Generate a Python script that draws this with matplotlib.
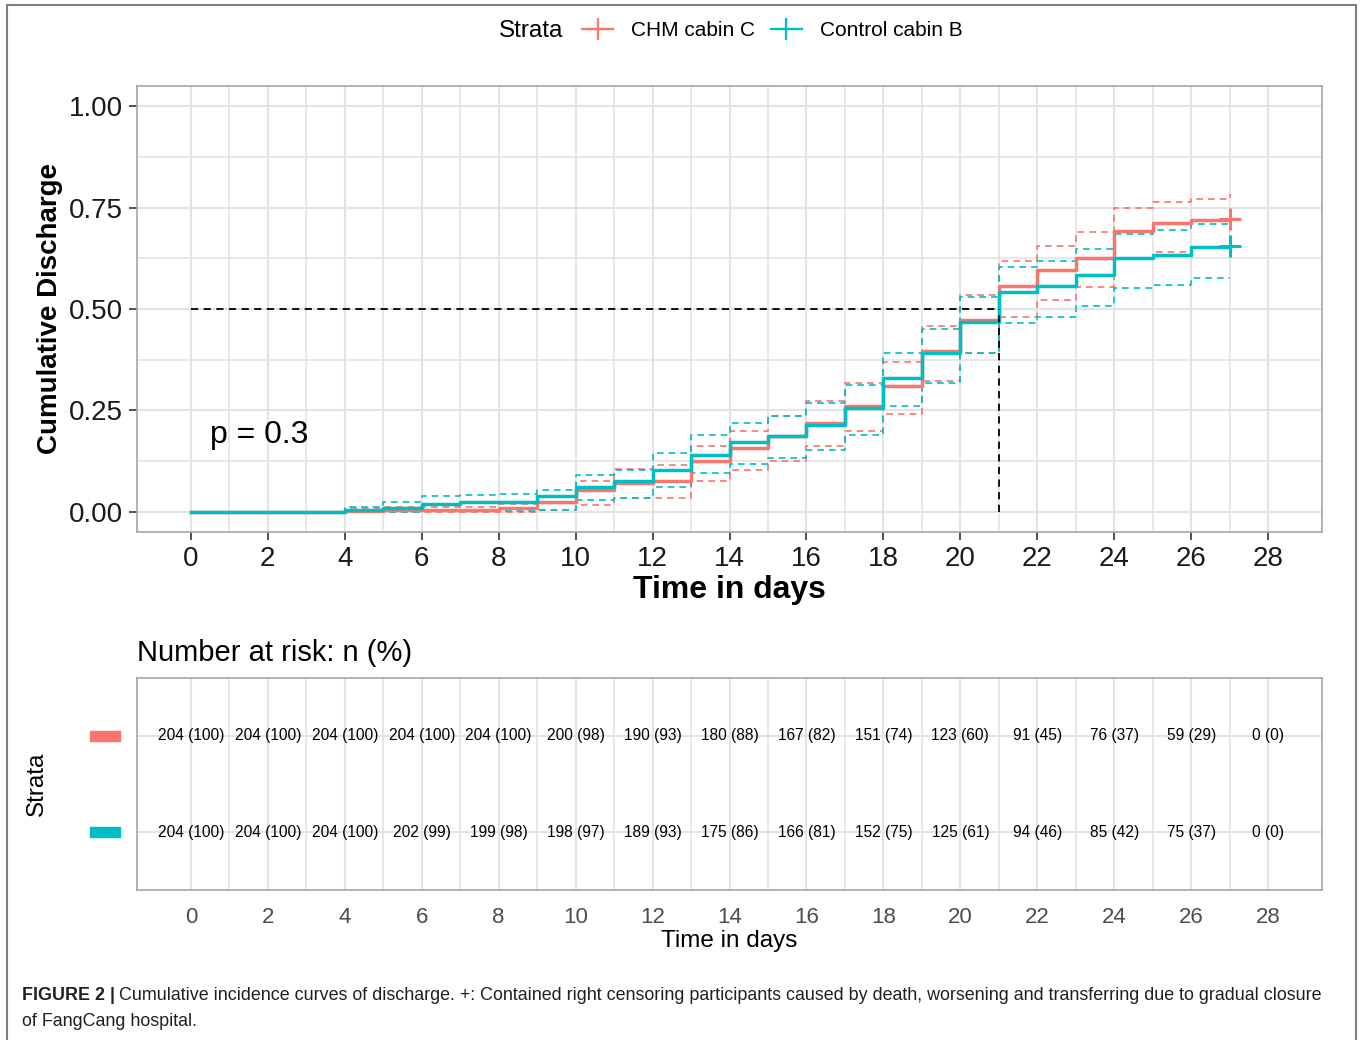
import matplotlib
matplotlib.use("Agg")
import matplotlib.pyplot as plt
from matplotlib.lines import Line2D
from matplotlib.patches import Rectangle
import matplotlib.transforms as mtransforms
import numpy as np

plt.rcParams['font.family'] = ['Liberation Sans', 'DejaVu Sans']

# 数据 (每天一个值, step post)
days = list(range(0, 28))
chm = [0, 0, 0, 0, 0.003, 0.005, 0.005, 0.005, 0.01, 0.025, 0.054, 0.072, 0.075, 0.124,
       0.157, 0.186, 0.22, 0.261, 0.31, 0.397, 0.474, 0.557, 0.596, 0.627, 0.692, 0.713, 0.719, 0.722]
chm_upper = [0, 0, 0, 0, 0.008, 0.012, 0.012, 0.012, 0.02, 0.04, 0.076, 0.105, 0.115, 0.163,
             0.2, 0.235, 0.274, 0.317, 0.37, 0.458, 0.534, 0.619, 0.655, 0.689, 0.748, 0.764, 0.771, 0.783]
chm_lower = [0, 0, 0, 0, 0, 0, 0, 0, 0, 0.005, 0.017, 0.034, 0.035, 0.075,
             0.102, 0.126, 0.161, 0.198, 0.241, 0.323, 0.392, 0.481, 0.522, 0.555, 0.625, 0.641, 0.65, 0.65]
ctrl = [0, 0, 0, 0, 0.004, 0.01, 0.02, 0.023, 0.023, 0.038, 0.062, 0.075, 0.103, 0.14,
        0.171, 0.186, 0.214, 0.255, 0.329, 0.392, 0.469, 0.543, 0.557, 0.585, 0.625, 0.633, 0.652, 0.655]
ctrl_upper = [0, 0, 0, 0, 0.012, 0.023, 0.039, 0.042, 0.044, 0.054, 0.091, 0.103, 0.144, 0.19,
              0.22, 0.236, 0.268, 0.313, 0.391, 0.45, 0.53, 0.603, 0.619, 0.647, 0.686, 0.695, 0.709, 0.712]
ctrl_lower = [0, 0, 0, 0, 0, 0, 0.002, 0.003, 0.003, 0.005, 0.03, 0.034, 0.062, 0.096,
              0.118, 0.132, 0.153, 0.19, 0.261, 0.317, 0.392, 0.466, 0.481, 0.508, 0.551, 0.559, 0.577, 0.577]

median_time = 21
risk_times = list(range(0, 29, 2))
chm_risk = ['204 (100)', '204 (100)', '204 (100)', '204 (100)', '204 (100)', '200 (98)', '190 (93)',
            '180 (88)', '167 (82)', '151 (74)', '123 (60)', '91 (45)', '76 (37)', '59 (29)', '0 (0)']
ctrl_risk = ['204 (100)', '204 (100)', '204 (100)', '202 (99)', '199 (98)', '198 (97)', '189 (93)',
             '175 (86)', '166 (81)', '152 (75)', '125 (61)', '94 (46)', '85 (42)', '75 (37)', '0 (0)']

labels = ['CHM cabin C', 'Control cabin B']
red = '#F8766D'
cyan = '#00BFC4'
grid_c = '#E3E3E3'

fig = plt.figure(figsize=(13.6, 10.4), dpi=100)
W, H = 1360, 1040

def px_axes(l, t, r, b):
    return fig.add_axes([l / W, 1 - b / H, (r - l) / W, (b - t) / H])

# 外框
fig.patches.append(Rectangle((7 / W, -0.05), (1356 - 7) / W, 1.05 - 4.5 / H, transform=fig.transFigure,
                             fill=False, edgecolor='#7F7F7F', linewidth=1.5))

# 主图
ax = px_axes(137, 86, 1322, 532)
ax.set_xlim(-1.4, 29.4)
ax.set_ylim(-0.05, 1.05)
ax.set_xticks(np.arange(0, 29, 2))
ax.set_xticks(np.arange(1, 29, 2), minor=True)
ax.set_yticks([0, 0.25, 0.5, 0.75, 1.0])
ax.set_yticks([0.125, 0.375, 0.625, 0.875], minor=True)
ax.set_yticklabels(['0.00', '0.25', '0.50', '0.75', '1.00'])
ax.grid(True, which='major', color=grid_c, linewidth=1.5)
ax.grid(True, which='minor', color=grid_c, linewidth=1.2)
ax.set_axisbelow(True)
for s in ax.spines.values():
    s.set_color('#A6A6A6')
    s.set_linewidth(1.2)
ax.tick_params(axis='both', which='major', labelsize=20, length=6, width=1.2, color='#333333',
               labelcolor='#1a1a1a', pad=4)
ax.tick_params(axis='both', which='minor', length=0)

ax.step(days, chm_upper, where='post', color=red, lw=1.2, ls=(0, (4, 3)))
ax.step(days, chm_lower, where='post', color=red, lw=1.2, ls=(0, (4, 3)))
ax.step(days, ctrl_upper, where='post', color=cyan, lw=1.2, ls=(0, (4, 3)))
ax.step(days, ctrl_lower, where='post', color=cyan, lw=1.2, ls=(0, (4, 3)))
ax.step(days, chm, where='post', color=red, lw=2.5)
ax.step(days, ctrl, where='post', color=cyan, lw=2.5)
ax.plot(days[-1], chm[-1], marker='+', color=red, ms=16, mew=2.2)
ax.plot(days[-1], ctrl[-1], marker='+', color=cyan, ms=16, mew=2.2)

# 中位数线
ax.plot([0, median_time], [0.5, 0.5], color='black', lw=1.3, ls=(0, (4, 3)))
ax.plot([median_time, median_time], [0, 0.5], color='black', lw=1.3, ls=(0, (4, 3)))

ax.text(0.5, 0.19, 'p = 0.3', fontsize=23, ha='left', va='center')
ax.set_xlabel('Time in days', fontsize=23, fontweight='bold', labelpad=2)
ax.set_ylabel('Cumulative Discharge', fontsize=20, fontweight='bold', labelpad=4)

# 图例
fig.text(499 / W, 1 - 31 / H, 'Strata', fontsize=17.5, ha='left', va='center')
handles = [Line2D([], [], color=red, lw=1.6, marker='+', ms=16, mew=1.6),
           Line2D([], [], color=cyan, lw=1.6, marker='+', ms=16, mew=1.6)]
fig.legend(handles, labels, loc='center left', bbox_to_anchor=(582 / W, 1 - 31 / H), ncol=2,
           frameon=False, fontsize=15, handlelength=1.5, handletextpad=0.85, columnspacing=0.75,
           borderpad=0, borderaxespad=0)

# 风险表
rx = px_axes(137, 678, 1322, 890)
rx.set_xlim(-1.4, 29.4)
rx.set_ylim(-0.6, 1.6)
rx.set_xticks(np.arange(0, 29, 2))
rx.set_xticks(np.arange(1, 29, 2), minor=True)
rx.set_yticks([0, 1])
rx.set_yticklabels(['', ''])
rx.grid(True, which='major', color=grid_c, linewidth=1.5)
rx.grid(True, which='minor', axis='x', color=grid_c, linewidth=1.2)
rx.set_axisbelow(True)
for s in rx.spines.values():
    s.set_color('#A6A6A6')
    s.set_linewidth(1.2)
rx.tick_params(axis='both', which='major', labelsize=16, length=0, labelcolor='#4d4d4d', pad=12)
rx.tick_params(axis='both', which='minor', length=0)
for t, a, b in zip(risk_times, chm_risk, ctrl_risk):
    rx.text(t, 1, a, fontsize=11.2, ha='center', va='center', color='black')
    rx.text(t, 0, b, fontsize=11.2, ha='center', va='center', color='black')
trans = mtransforms.blended_transform_factory(rx.transAxes, rx.transData)
for yv, c in [(1, red), (0, cyan)]:
    rx.add_patch(Rectangle((-0.04, yv - 0.05), 0.026, 0.1, transform=trans, color=c, clip_on=False))
rx.set_xlabel('Time in days', fontsize=17.5, labelpad=2)
rx.set_ylabel('Strata', fontsize=17.5, labelpad=52)
rx.set_title('Number at risk: n (%)', fontsize=21, loc='left', pad=12)

# 图注
cap_size = 12.9
cap_bold = fig.text(22 / W, 1 - 996 / H, 'FIGURE 2 |', fontsize=cap_size, fontweight='bold',
                    ha='left', va='center', color='#231f20')
fig.canvas.draw()
bb = cap_bold.get_window_extent()
fig.text((bb.x1 + 4) / W, 1 - 996 / H,
         'Cumulative incidence curves of discharge. +: Contained right censoring participants '
         'caused by death, worsening and transferring due to gradual closure',
         fontsize=cap_size, ha='left', va='center', color='#231f20')
fig.text(22 / W, 1 - 1021 / H, 'of FangCang hospital.', fontsize=cap_size, ha='left', va='center', color='#231f20')

fig.savefig('out.png', dpi=100)
